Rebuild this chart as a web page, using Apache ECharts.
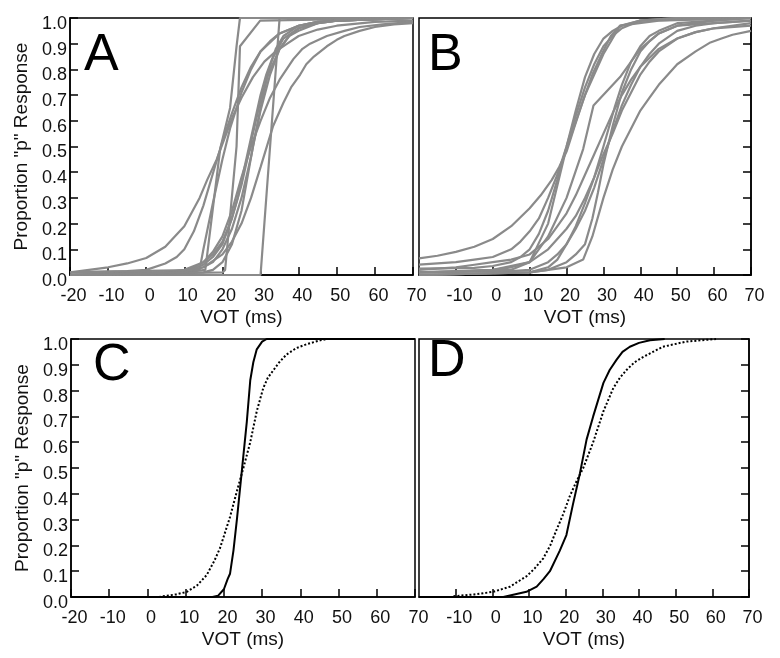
<!DOCTYPE html>
<html>
<head>
<meta charset="utf-8">
<script src="https://cdn.jsdelivr.net/npm/echarts@6/dist/echarts.min.js"></script>
<style>html,body{margin:0;padding:0;background:#fff}#c{width:780px;height:658px}</style>
</head>
<body>
<div id="c"></div>
<script>
// ---------- data (x = VOT in ms, y = proportion "p") ----------
const panelLetters = ['A', 'B', 'C', 'D'];
const xAxisName = 'VOT (ms)';
const yAxisName = 'Proportion "p" Response';

// Panel A: individual listeners (gray)
const A01 = [[-20,0.01],[-15,0.02],[-10,0.03],[-5,0.045],[0,0.066],[5,0.11],[10,0.19],[14,0.3],[16,0.37],[18.5,0.45],[20.5,0.53],[22.8,0.62],[25,0.69],[28,0.77],[31,0.83],[34,0.87],[37,0.9],[40,0.93],[45,0.955],[50,0.97],[60,0.985],[70,0.99]];
const A02 = [[-20,0.01],[-5,0.015],[0,0.02],[5,0.045],[8,0.07],[10,0.1],[12.5,0.17],[15,0.27],[18,0.42],[20,0.52],[22.5,0.63],[25,0.73],[27.5,0.81],[30,0.87],[35,0.94],[40,0.97],[45,0.985],[50,0.99],[70,1.0]];
const A03 = [[-20,0.0],[30,0.0],[35,1.0],[70,1.0]];
const A04 = [[-20,0.01],[10,0.01],[15.5,0.02],[17,0.2],[19.4,0.49],[22,0.65],[23.7,0.89],[24.6,1.0],[70,1.0]];
const A05 = [[-20,0.0],[20,0.01],[20.7,0.02],[23.7,0.5],[24.6,0.89],[29.9,0.99],[70,1.0]];
const A06 = [[-20,0.0],[5,0.01],[10,0.02],[15,0.05],[17.5,0.08],[20,0.13],[22.5,0.22],[25,0.35],[28,0.55],[30,0.68],[32,0.78],[35,0.88],[37.5,0.93],[40,0.95],[45,0.98],[50,0.99],[70,1.0]];
const A07 = [[-20,0.0],[10,0.01],[15,0.03],[17.5,0.05],[20,0.1],[22.5,0.18],[25,0.3],[27.5,0.46],[30,0.65],[32,0.79],[34,0.88],[36,0.93],[40,0.97],[45,0.985],[50,0.99],[70,1.0]];
const A08 = [[-20,0.0],[15,0.01],[17.5,0.02],[20,0.05],[22.5,0.12],[25,0.25],[28,0.5],[30,0.64],[32.5,0.78],[35,0.88],[37.5,0.93],[40,0.96],[45,0.98],[50,0.99],[70,1.0]];
const A09 = [[-20,0.0],[10,0.01],[15,0.03],[20,0.08],[22.5,0.13],[25,0.2],[27.5,0.3],[30,0.42],[33.3,0.58],[36,0.67],[38,0.73],[40.4,0.78],[42,0.82],[44,0.85],[47.4,0.89],[50,0.915],[52,0.93],[56,0.95],[60,0.965],[65,0.975],[70,0.98]];
const A10 = [[-20,0.0],[10,0.01],[15,0.05],[17.5,0.09],[20,0.15],[22.5,0.25],[25,0.38],[27.5,0.5],[30,0.6],[32.5,0.69],[35,0.76],[38.6,0.84],[41,0.88],[43,0.9],[47.4,0.93],[52,0.95],[56,0.965],[62,0.975],[70,0.985]];
const A11 = [[-20,0.01],[14,0.02],[15,0.1],[17.5,0.28],[20,0.45],[22,0.57],[25,0.71],[27.5,0.8],[30,0.87],[32.5,0.91],[35,0.94],[40,0.97],[45,0.985],[50,0.99],[70,1.0]];
const A12 = [[-20,0.0],[10,0.01],[15,0.04],[17.5,0.07],[20,0.12],[22,0.2],[24,0.3],[25.5,0.4],[27,0.5],[28.5,0.6],[30,0.7],[31.5,0.78],[33,0.84],[36,0.92],[40,0.96],[45,0.98],[50,0.99],[70,1.0]];

// Panel B: individual listeners (gray)
const B01 = [[-20,0.065],[-15,0.075],[-10,0.09],[-5,0.11],[0,0.14],[5,0.19],[10,0.26],[13,0.31],[16,0.37],[18,0.42],[20,0.48],[22,0.57],[24.5,0.68],[27,0.78],[29.9,0.87],[32,0.93],[34.5,0.97],[40,0.99],[50,1.0],[70,1.0]];
const B02 = [[-20,0.04],[-10,0.05],[-5,0.06],[0,0.07],[5,0.1],[7.5,0.13],[10,0.17],[12.5,0.22],[15,0.3],[17.5,0.39],[20,0.5],[22.5,0.62],[25,0.73],[27.5,0.82],[30,0.89],[32.5,0.93],[35,0.96],[40,0.99],[50,1.0],[70,1.0]];
const B03 = [[-20,0.025],[-5,0.028],[0,0.035],[5,0.05],[7.5,0.07],[10,0.1],[12.5,0.16],[15,0.25],[17.5,0.37],[20,0.5],[22.5,0.64],[25,0.77],[27.5,0.86],[30,0.92],[32.5,0.95],[35,0.97],[40,0.99],[70,1.0]];
const B04 = [[-20,0.01],[0,0.02],[10,0.05],[15,0.2],[19.9,0.49],[25,0.7],[30,0.86],[34.5,0.97],[45,0.99],[70,1.0]];
const B05 = [[-20,0.01],[5,0.015],[10,0.02],[15,0.05],[17.5,0.08],[20,0.12],[22.5,0.18],[25,0.25],[27.5,0.34],[30,0.45],[32.5,0.56],[35,0.66],[37.5,0.74],[40,0.81],[42.5,0.86],[45,0.9],[50,0.95],[55,0.97],[60,0.98],[70,0.99]];
const B06 = [[-20,0.0],[10,0.01],[15,0.02],[20,0.05],[22.5,0.08],[25,0.12],[27,0.22],[28.5,0.32],[30,0.43],[32.5,0.58],[35,0.71],[37.5,0.8],[40,0.87],[42.5,0.91],[45,0.94],[50,0.97],[60,0.99],[70,1.0]];
const B07 = [[-20,0.0],[10,0.01],[20,0.03],[24.5,0.06],[27,0.15],[30,0.3],[32.5,0.41],[35,0.5],[37.5,0.57],[40,0.64],[42.5,0.69],[45,0.74],[47.5,0.78],[50,0.82],[55,0.87],[59,0.905],[62,0.92],[65,0.935],[70,0.95]];
const B08 = [[-20,0.01],[-10,0.012],[0,0.02],[5,0.03],[10,0.05],[15,0.1],[20,0.18],[22.5,0.23],[25,0.3],[27.5,0.38],[30,0.47],[32.5,0.55],[35,0.64],[37.5,0.71],[40,0.78],[42.5,0.83],[45,0.87],[50,0.92],[55,0.945],[60,0.96],[70,0.97]];
const B09 = [[-20,0.0],[10,0.01],[15,0.03],[17.5,0.06],[20,0.12],[22.5,0.19],[25,0.28],[27.5,0.38],[30,0.5],[33,0.65],[35,0.74],[37.5,0.83],[40,0.89],[42.5,0.93],[45,0.95],[50,0.98],[60,0.99],[70,1.0]];
const B10 = [[-20,0.01],[5,0.02],[10,0.05],[15,0.15],[20,0.3],[24.5,0.49],[27.3,0.66],[34.5,0.77],[40,0.88],[45,0.94],[50,0.97],[70,0.99]];
const B11 = [[-20,0.02],[-10,0.03],[-5,0.04],[0,0.05],[5,0.06],[10,0.08],[15,0.14],[20,0.24],[22.5,0.31],[25,0.39],[27.5,0.47],[30,0.55],[32.5,0.63],[35,0.7],[37.5,0.76],[40,0.81],[45,0.88],[50,0.92],[55,0.945],[60,0.96],[70,0.98]];

// Panel C: group curves (black)
const C_solid  = [[-20,0],[17,0],[18.5,0.005],[20,0.03],[21,0.07],[21.6,0.09],[22.5,0.18],[23.4,0.3],[24.7,0.49],[26,0.68],[26.9,0.84],[27.7,0.91],[28.6,0.96],[30,0.99],[31.2,1.0],[70,1.0]];
const C_dotted = [[3,0],[5,0.005],[7.5,0.01],[10.3,0.02],[13,0.045],[15.5,0.085],[17.5,0.14],[19,0.19],[21.6,0.31],[23.4,0.41],[25.1,0.5],[26.9,0.6],[28.6,0.72],[30.3,0.81],[31.5,0.85],[33,0.88],[34.5,0.91],[36.4,0.94],[39,0.965],[41.7,0.98],[45.2,0.995],[47,1.0]];

// Panel D: group curves (black)
const D_solid  = [[-20,0],[3,0],[6,0.01],[9.3,0.02],[12.1,0.04],[14,0.07],[15.7,0.1],[18.4,0.18],[20.2,0.24],[22,0.36],[23.9,0.48],[25.7,0.61],[27.5,0.7],[29,0.77],[30.3,0.83],[32,0.88],[33.9,0.92],[35.5,0.95],[37.5,0.97],[40,0.985],[43,0.995],[47,1.0]];
const D_dotted = [[-10.6,0.003],[-5,0.01],[0.2,0.02],[4.8,0.04],[7,0.06],[9.3,0.08],[11.5,0.11],[13.9,0.15],[15.8,0.2],[17.5,0.26],[19.3,0.32],[21.1,0.39],[23,0.45],[24.8,0.5],[27.5,0.6],[30.3,0.72],[33,0.81],[34.8,0.85],[36.6,0.88],[38.8,0.91],[41.1,0.93],[46.5,0.97],[52.9,0.99],[61,1.0]];

const panelA = [A01,A02,A03,A04,A05,A06,A07,A08,A09,A10,A11,A12];
const panelB = [B01,B02,B03,B04,B05,B06,B07,B08,B09,B10,B11];

// ---------- chart ----------
const FONT = '"Liberation Sans", Arial, sans-serif';
const GRAY = '#8a8a8a';
const grids = [
  {left: 70,  top: 18,  width: 343, height: 257},
  {left: 419, top: 18,  width: 332, height: 257},
  {left: 71,  top: 339, width: 344, height: 258},
  {left: 419, top: 339, width: 330, height: 258}
];
const letterPos = [[84, 30], [428, 30], [93, 340], [428, 336]];

function xAx(i, hideMin) {
  return {
    gridIndex: i, type: 'value', min: -20, max: 70, interval: 10,
    name: xAxisName, nameLocation: 'middle', nameGap: 33,
    nameTextStyle: {fontFamily: FONT, fontSize: 19, color: '#111'},
    axisLine: {show: true, onZero: false, lineStyle: {color: '#000', width: 1.5}},
    axisTick: {show: true, inside: true, length: 8, lineStyle: {color: '#000', width: 1.5}},
    splitLine: {show: false},
    axisLabel: {show: true, showMinLabel: !hideMin, margin: 12, fontFamily: FONT, fontSize: 18, color: '#111',
                padding: [0, 0, 0, 7], formatter: v => String(v)}
  };
}
function yAx(i, right) {
  return {
    gridIndex: i, type: 'value', min: 0, max: 1, interval: 0.1,
    position: right ? 'right' : 'left',
    name: right ? '' : yAxisName, nameLocation: 'middle', nameGap: 39,
    nameTextStyle: {fontFamily: FONT, fontSize: 19, color: '#111'},
    axisLine: {show: true, onZero: false, lineStyle: {color: '#000', width: 1.5}},
    axisTick: {show: true, inside: true, length: 8, lineStyle: {color: '#000', width: 1.5}},
    splitLine: {show: false},
    axisLabel: {show: !right, margin: 3, fontFamily: FONT, fontSize: 18, color: '#111',
                verticalAlign: 'top', lineHeight: 12, formatter: v => v.toFixed(1)}
  };
}

const series = [];
panelA.forEach(d => series.push({
  type: 'line', xAxisIndex: 0, yAxisIndex: 0, data: d, showSymbol: false, smooth: false,
  lineStyle: {color: GRAY, width: 2.2}, silent: true
}));
panelB.forEach(d => series.push({
  type: 'line', xAxisIndex: 1, yAxisIndex: 1, data: d, showSymbol: false, smooth: false,
  lineStyle: {color: GRAY, width: 2.2}, silent: true
}));
[[C_solid, 'solid'], [C_dotted, 'dotted']].forEach(([d, t]) => series.push({
  type: 'line', xAxisIndex: 2, yAxisIndex: 2, data: d, showSymbol: false, smooth: false,
  lineStyle: {color: '#000', width: 2, type: t === 'dotted' ? [2, 2] : 'solid'}, silent: true
}));
[[D_solid, 'solid'], [D_dotted, 'dotted']].forEach(([d, t]) => series.push({
  type: 'line', xAxisIndex: 3, yAxisIndex: 3, data: d, showSymbol: false, smooth: false,
  lineStyle: {color: '#000', width: 2, type: t === 'dotted' ? [2, 2] : 'solid'}, silent: true
}));

const chart = echarts.init(document.getElementById('c'), null, {renderer: 'canvas'});
chart.setOption({
  animation: false,
  backgroundColor: '#fff',
  grid: grids.map(g => Object.assign({show: true, borderColor: '#000', borderWidth: 1.5, backgroundColor: 'transparent'}, g)),
  xAxis: [xAx(0, false), xAx(1, true), xAx(2, false), xAx(3, true)],
  yAxis: [yAx(0, false), yAx(1, true), yAx(2, false), yAx(3, true)],
  graphic: panelLetters.map((L, i) => ({
    type: 'text', left: letterPos[i][0], top: letterPos[i][1], z: 10,
    style: {text: L, fontFamily: FONT, fontSize: 52, fill: '#000'}
  })),
  series: series
});
</script>
</body>
</html>
